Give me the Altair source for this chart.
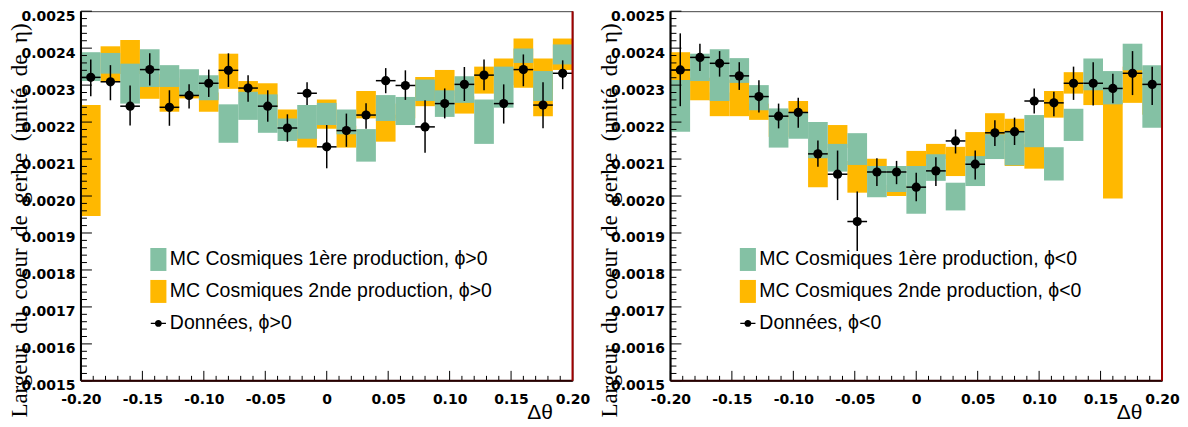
import altair as alt
import pandas as pd

# ---------------- data ----------------
bin_centers = [-0.192, -0.176, -0.160, -0.144, -0.128, -0.112, -0.096, -0.080,
               -0.064, -0.048, -0.032, -0.016, 0.000, 0.016, 0.032, 0.048,
               0.064, 0.080, 0.096, 0.112, 0.128, 0.144, 0.160, 0.176, 0.192]
bin_half_width = 0.008

# phi > 0
pos_mc1_lo = [0.002311, 0.002331, 0.002250, 0.002295, 0.002295, 0.002272, 0.002259, 0.002144,
              0.002206, 0.002171, 0.002149, 0.002155, 0.002192, 0.002167, 0.002093, 0.002203,
              0.002192, 0.002257, 0.002214, 0.002252, 0.002141, 0.002239, 0.002360, 0.002257, 0.002356]
pos_mc1_hi = [0.002389, 0.002387, 0.002358, 0.002397, 0.002354, 0.002343, 0.002327, 0.002248,
              0.002282, 0.002275, 0.002210, 0.002246, 0.002252, 0.002234, 0.002181, 0.002273,
              0.002268, 0.002315, 0.002286, 0.002324, 0.002261, 0.002350, 0.002399, 0.002338, 0.002410]
pos_mc2_lo = [0.001946, 0.002309, 0.002330, 0.002263, 0.002228, 0.002264, 0.002228, 0.002290,
              0.002280, 0.002240, 0.002190, 0.002131, 0.002182, 0.002131, 0.002210, 0.002147,
              0.002210, 0.002243, 0.002270, 0.002223, 0.002277, 0.002300, 0.002293, 0.002216, 0.002341]
pos_mc2_hi = [0.002246, 0.002405, 0.002422, 0.002330, 0.002320, 0.002285, 0.002280, 0.002385,
              0.002311, 0.002305, 0.002234, 0.002180, 0.002261, 0.002190, 0.002284, 0.002220,
              0.002250, 0.002322, 0.002341, 0.002270, 0.002350, 0.002372, 0.002426, 0.002372, 0.002426]
pos_data = [0.002321, 0.002309, 0.002243, 0.002342, 0.002240, 0.002272, 0.002305, 0.002340,
            0.002292, 0.002243, 0.002184, 0.002278, 0.002133, 0.002177, 0.002219, 0.002312,
            0.002299, 0.002187, 0.002250, 0.002302, 0.002327, 0.002250, 0.002342, 0.002246, 0.002332]
pos_data_hi = [0.002369, 0.002354, 0.002299, 0.002386, 0.002286, 0.002302, 0.002342, 0.002386,
               0.002327, 0.002286, 0.002221, 0.002308, 0.002192, 0.002223, 0.002251, 0.002346,
               0.002340, 0.002259, 0.002291, 0.002349, 0.002369, 0.002302, 0.002383, 0.002308, 0.002367]
pos_data_lo = [0.002270, 0.002259, 0.002191, 0.002299, 0.002190, 0.002237, 0.002268, 0.002295,
               0.002255, 0.002201, 0.002147, 0.002246, 0.002075, 0.002133, 0.002182, 0.002278,
               0.002260, 0.002117, 0.002210, 0.002257, 0.002286, 0.002196, 0.002297, 0.002183, 0.002289]

# phi < 0
neg_mc1_lo = [0.002174, 0.002311, 0.002257, 0.002306, 0.002232, 0.002131, 0.002155, 0.002102,
              0.002066, 0.002084, 0.001997, 0.002011, 0.001952, 0.002041, 0.001961, 0.002027,
              0.002100, 0.002083, 0.002132, 0.002042, 0.002149, 0.002286, 0.002248, 0.002340, 0.002185]
neg_mc1_hi = [0.002314, 0.002385, 0.002397, 0.002373, 0.002300, 0.002237, 0.002225, 0.002200,
              0.002141, 0.002170, 0.002081, 0.002081, 0.002081, 0.002113, 0.002036, 0.002108,
              0.002167, 0.002176, 0.002219, 0.002132, 0.002236, 0.002372, 0.002338, 0.002412, 0.002354]
neg_mc2_lo = [0.002290, 0.002259, 0.002216, 0.002216, 0.002206, 0.002160, 0.002210, 0.002024,
              0.002130, 0.002009, 0.002070, 0.002000, 0.002070, 0.002100, 0.002054, 0.002095,
              0.002150, 0.002081, 0.002074, 0.002212, 0.002277, 0.002246, 0.001993, 0.002252, 0.002220]
neg_mc2_hi = [0.002389, 0.002320, 0.002280, 0.002315, 0.002250, 0.002220, 0.002257, 0.002120,
              0.002192, 0.002095, 0.002101, 0.002030, 0.002122, 0.002141, 0.002133, 0.002173,
              0.002224, 0.002209, 0.002140, 0.002284, 0.002335, 0.002300, 0.002260, 0.002350, 0.002320]
neg_data = [0.002341, 0.002375, 0.002359, 0.002325, 0.002269, 0.002216, 0.002226, 0.002114,
            0.002059, 0.001931, 0.002065, 0.002065, 0.002024, 0.002068, 0.002149, 0.002086,
            0.002171, 0.002174, 0.002257, 0.002252, 0.002305, 0.002305, 0.002291, 0.002332, 0.002302]
neg_data_hi = [0.002440, 0.002412, 0.002392, 0.002362, 0.002313, 0.002250, 0.002266, 0.002150,
               0.002123, 0.002012, 0.002102, 0.002095, 0.002063, 0.002105, 0.002180, 0.002123,
               0.002205, 0.002212, 0.002291, 0.002282, 0.002350, 0.002362, 0.002331, 0.002392, 0.002350]
neg_data_lo = [0.002243, 0.002338, 0.002323, 0.002287, 0.002226, 0.002183, 0.002185, 0.002079,
               0.001989, 0.001851, 0.002027, 0.002032, 0.001986, 0.002027, 0.002115, 0.002045,
               0.002135, 0.002138, 0.002223, 0.002216, 0.002260, 0.002245, 0.002251, 0.002273, 0.002246]

x_major = [round(-0.2 + 0.05 * i, 4) for i in range(9)]
x_minor = [round(-0.2 + 0.01 * i, 4) for i in range(41) if i % 5]
y_major = [round(0.0015 + 0.0001 * i, 6) for i in range(11)]
y_minor = [round(0.0015 + 0.00002 * i, 6) for i in range(51) if i % 5]

# ---------------- styles ----------------
GREEN = "#84c1a4"
ORANGE = "#ffb800"
W, H = 492, 370
RECT_PATH = "M-0.7,-1H0.7V1H-0.7Z"
DOT_PATH = "M-0.66,-0.05H0.66V0.05H-0.66Z M0.3,0A0.3,0.3 0 1 1 -0.3,0A0.3,0.3 0 1 1 0.3,0Z"

xs = alt.Scale(domain=[-0.2, 0.2], nice=False, zero=False)
ys = alt.Scale(domain=[0.0015, 0.0025], nice=False, zero=False)

Y_TITLE = "Largeur\u2002du\u2002coeur\u2002de\u2002gerbe\u2002(unité\u2002de\u2002η)"

XAXIS = alt.Axis(
    values=x_major,
    labelExpr="abs(datum.value) < 1e-9 ? '0' : replace(format(datum.value, '.2f'), '\u2212', '-')",
    ticks=False, tickSize=0, domain=False, grid=False,
    labelFont="DejaVu Sans", labelFontWeight="bold", labelFontSize=14,
    labelColor="black", labelPadding=12, labelFlush=False, labelOverlap=False,
    title="Δθ", titleFont="Liberation Sans", titleFontSize=21, titleFontWeight="normal",
    titleColor="black", titleX=459, titleY=38, titleAlign="center",
    titleBaseline="alphabetic",
)
YAXIS = alt.Axis(
    values=y_major, format=".4f",
    ticks=False, tickSize=0, domain=False, grid=False,
    labelFont="DejaVu Sans", labelFontWeight="bold", labelFontSize=14,
    labelColor="black", labelPadding=6, labelOffset=5, labelFlush=False,
    labelOverlap=False,
    title=Y_TITLE, titleFont="Liberation Serif", titleFontSize=23,
    titleFontWeight="normal", titleColor="black", titleAngle=270,
    titleX=-54, titleY=209, titleAlign="center", titleBaseline="alphabetic",
)


def X(f):
    return alt.X(f, scale=xs, axis=XAXIS)


def Y(f):
    return alt.Y(f, scale=ys, axis=YAXIS)


def panel(mc1_lo, mc1_hi, mc2_lo, mc2_hi, d, d_hi, d_lo, sign):
    df = pd.DataFrame({
        "xc": bin_centers,
        "x1": [c - bin_half_width for c in bin_centers],
        "x2": [c + bin_half_width for c in bin_centers],
        "g_lo": mc1_lo, "g_hi": mc1_hi, "o_lo": mc2_lo, "o_hi": mc2_hi,
        "d": d, "d_hi": d_hi, "d_lo": d_lo,
    })
    base = alt.Chart(df)

    orange = base.mark_rect(color=ORANGE, strokeWidth=0).encode(
        x=X("x1:Q"), x2="x2:Q", y=Y("o_lo:Q"), y2="o_hi:Q")
    green = base.mark_rect(color=GREEN, strokeWidth=0).encode(
        x=X("x1:Q"), x2="x2:Q", y=Y("g_lo:Q"), y2="g_hi:Q")
    vbar = base.mark_rule(color="black", strokeWidth=1.5).encode(
        x=X("xc:Q"), y=Y("d_lo:Q"), y2="d_hi:Q")
    hbar = base.mark_rule(color="black", strokeWidth=1.5).encode(
        x=X("x1:Q"), x2="x2:Q", y=Y("d:Q"))
    pts = base.mark_circle(color="black", size=85, opacity=1).encode(
        x=X("xc:Q"), y=Y("d:Q"))

    # axis ticks drawn inward (ROOT style)
    ymaj = alt.Chart(pd.DataFrame({"v": y_major})).mark_rule(color="black", strokeWidth=1).encode(
        y=Y("v:Q"), x=alt.value(0), x2=alt.value(11))
    ymin = alt.Chart(pd.DataFrame({"v": y_minor})).mark_rule(color="black", strokeWidth=1).encode(
        y=Y("v:Q"), x=alt.value(0), x2=alt.value(6))
    xmaj = alt.Chart(pd.DataFrame({"v": x_major})).mark_rule(color="black", strokeWidth=1).encode(
        x=X("v:Q"), y=alt.value(H), y2=alt.value(H - 10))
    xmin = alt.Chart(pd.DataFrame({"v": x_minor})).mark_rule(color="black", strokeWidth=1).encode(
        x=X("v:Q"), y=alt.value(H), y2=alt.value(H - 5))

    fdf = pd.DataFrame({"k": [0]})
    left_edge = alt.Chart(fdf).mark_rule(color="black", strokeWidth=2).encode(
        x=alt.value(0), y=alt.value(0), y2=alt.value(H))
    bottom_edge = alt.Chart(fdf).mark_rule(color="#2a0000", strokeWidth=2).encode(
        x=alt.value(0), x2=alt.value(W), y=alt.value(H))
    right_edge = alt.Chart(fdf).mark_rule(color="#a00000", strokeWidth=2).encode(
        x=alt.value(W), y=alt.value(0), y2=alt.value(H))

    names = [f"MC Cosmiques 1ère production, ϕ{sign}0",
             f"MC Cosmiques 2nde production, ϕ{sign}0",
             f"Données, ϕ{sign}0"]
    leg_spec = dict(orient="none", legendX=66, legendY=237, padding=0,
                    symbolSize=529, symbolStrokeWidth=0, symbolOpacity=1,
                    labelFont="Liberation Sans", labelFontSize=19.5, labelColor="black",
                    labelLimit=1000, rowPadding=9, labelOffset=0, title=None)
    legend_layer = alt.Chart(pd.DataFrame({"series": names})).mark_point(
        filled=True, opacity=1).encode(
        color=alt.Color("series:N", scale=alt.Scale(domain=names, range=[GREEN, ORANGE, "black"]),
                        legend=alt.Legend(**leg_spec)),
        shape=alt.Shape("series:N", scale=alt.Scale(domain=names, range=[RECT_PATH, RECT_PATH, DOT_PATH]),
                        legend=alt.Legend(**leg_spec)),
    ).transform_filter("false")

    return alt.layer(orange, green, vbar, hbar, pts, ymaj, ymin, xmaj, xmin,
                     left_edge, bottom_edge, right_edge, legend_layer).properties(width=W, height=H)


left = panel(pos_mc1_lo, pos_mc1_hi, pos_mc2_lo, pos_mc2_hi, pos_data, pos_data_hi, pos_data_lo, ">")
right = panel(neg_mc1_lo, neg_mc1_hi, neg_mc2_lo, neg_mc2_hi, neg_data, neg_data_hi, neg_data_lo, "<")

chart = alt.hconcat(left, right, spacing=98, bounds="flush").resolve_scale(
    color="independent", shape="independent"
).properties(
    padding={"left": 0, "top": 0, "right": 0, "bottom": 0}
).configure_view(stroke="#444", strokeWidth=1)

chart.save("out.html", embed_options={"renderer": "svg", "actions": False})
